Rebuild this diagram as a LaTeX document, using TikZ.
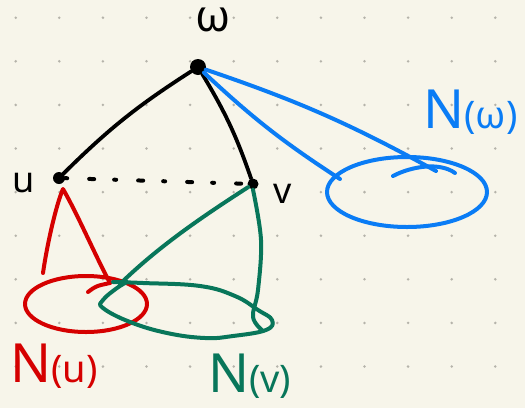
\documentclass[tikz,border=0pt]{standalone}
\usepackage{fontspec}
\setmainfont{Noto Sans}
\usetikzlibrary{shapes.geometric}
\definecolor{bg}{HTML}{F7F5EA}
\definecolor{griddot}{HTML}{B5B3AA}
\definecolor{nblue}{HTML}{0A7CF5}
\definecolor{nred}{HTML}{D50000}
\definecolor{ngreen}{HTML}{08765A}
\begin{document}
\begin{tikzpicture}[x=1pt,y=-1pt,line cap=round,line join=round,
  vert/.style={circle,fill=black,inner sep=0pt,minimum size=#1},
  edge/.style={black,line width=3.8pt},
  bline/.style={nblue,line width=4pt},
  rline/.style={nred,line width=4pt},
  gline/.style={ngreen,line width=4pt},
  vlab/.style={inner sep=0pt,font=\fontsize{36}{38}\selectfont\bfseries},
  setlab/.style={inner sep=0pt,anchor=base west,font=\fontsize{54}{58}\selectfont},
  hood/.style={ellipse,draw,inner sep=0pt}]
\fill[bg] (0,0) rectangle (525,408);
\useasboundingbox (0,0) rectangle (525,408);
\foreach \i in {0,...,11}
  \foreach \j in {0,...,8}
    \fill[griddot] (15.7+43.6*\i,17.7+43.6*\j) circle (1.4pt);

% vertices
\node[vert=16] (w) at (198,67) {};
\node[vert=12] (u) at (59,178) {};
\node[vert=11] (v) at (253,184) {};
\node[vlab] (lw) at (213,20) {\fontsize{44}{46}\selectfont ω};
\node[vlab] (lu) at (24,183) {u};
\node[vlab] (lv) at (283,194) {v};

% edges
\draw[edge] (w) to[bend right=6] (u);
\draw[edge] (w) to[bend left=6] (v);
\draw[edge,line width=4pt,dash pattern=on 2pt off 22pt on 5pt off 20pt] (u) -- (v);

% N(w)
\node[hood,nblue,line width=4pt,minimum width=160pt,minimum height=70pt] (Nw) at (407,192) {};
\coordinate (b1) at (340,179);
\coordinate (b2) at (436,171);
\draw[bline] (w) to[bend right=5] (b1);
\draw[bline] (w) to[bend left=5] (b2);
\draw[bline] (393,176) .. controls (412,166) and (440,162) .. (455,173);
\node[setlab,text=nblue] (tw) at (423,128) {N{\fontsize{38}{40}\selectfont(ω)}};

% N(u)
\node[hood,nred,line width=4pt,minimum width=122pt,minimum height=56pt] (Nu) at (86,304) {};
\coordinate (r1) at (43,273);
\coordinate (ra) at (63,189);
\coordinate (r2) at (110,283);
\draw[rline] (r1) .. controls (47,245) and (56,205) .. (ra)
             .. controls (78,215) and (95,255) .. (r2);
\draw[rline] (88,292) .. controls (96,286) .. (r2);
\node[setlab,text=nred] (tu) at (10,382) {N{\fontsize{38}{40}\selectfont(u)}};

% N(v)
\coordinate (g1) at (120,284);
\draw[gline] (v) .. controls (205,215) and (160,245) .. (g1);
\draw[gline] plot[smooth,tension=0.6] coordinates {(v.south) (261,240) (258,290) (253,317) (263,331)};
\draw[gline] plot[smooth,tension=0.7] coordinates {(113,282) (143,283) (200,286) (235,296) (258,310) (272,320) (266,330) (233,336) (205,338) (167,333) (130,322) (103,308) (103,300) (117,288) (127,282)};
\node[setlab,text=ngreen] (tv) at (208,392) {N{\fontsize{38}{40}\selectfont(v)}};
\end{tikzpicture}
\end{document}
